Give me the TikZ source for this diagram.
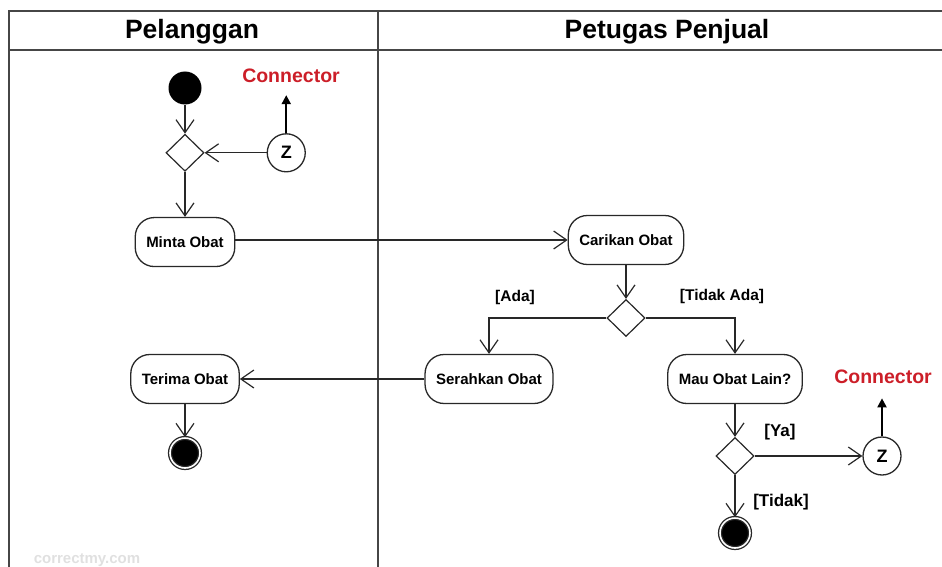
\documentclass[tikz,border=0pt]{standalone}
\usepackage{fontspec}
\setmainfont{Liberation Sans}
\usepackage{tikz}
\usetikzlibrary{shapes.geometric,arrows.meta,positioning}
\definecolor{lanegrey}{RGB}{70,70,70}
\definecolor{lineblack}{RGB}{40,40,40}
\definecolor{connred}{RGB}{204,30,40}

\begin{document}
\begin{tikzpicture}[x=1pt, y=-1pt,
    action/.style={rectangle, draw=lineblack, line width=1.3pt, fill=white,
        rounded corners=19pt, minimum height=49pt, inner xsep=11pt,
        font=\fontsize{15}{17}\bfseries\selectfont},
    choice/.style={diamond, draw=lineblack, line width=1.2pt, fill=white,
        minimum width=38pt, minimum height=37pt, inner sep=0pt, aspect=1},
    startnode/.style={circle, fill=black, minimum size=33pt, inner sep=0pt},
    endnode/.style={circle, draw=lineblack, line width=1.3pt, fill=black,
        double=white, double distance=1.6pt, minimum size=30pt, inner sep=0pt},
    jump/.style={circle, draw=lineblack, line width=1.3pt, fill=white,
        minimum size=38pt, inner sep=0pt, font=\fontsize{18}{20}\bfseries\selectfont},
    conntext/.style={text=connred, font=\fontsize{19.5}{22}\bfseries\selectfont},
    guard/.style={font=\fontsize{15.5}{17}\bfseries\selectfont},
    lanehead/.style={font=\fontsize{26.5}{30}\bfseries\selectfont},
    flow/.style={-{Straight Barb[length=13pt, width=18pt, line width=1.2pt]},
        line width=1.2pt, lineblack},
    pointer/.style={-{Triangle[length=9pt, width=9pt]}, line width=2pt, black}
]
    \useasboundingbox (0,0) rectangle (942,567);

    % Swimlanes
    \draw[lanegrey, line width=2pt] (950,11) -- (9,11) -- (9,575);
    \draw[lanegrey, line width=2pt] (9,50) -- (950,50);
    \draw[lanegrey, line width=2pt] (378,11) -- (378,575);
    \node[lanehead] (laneA) at (192,32) {Pelanggan};
    \node[lanehead] (laneB) at (667,32) {Petugas Penjual};

    % Pelanggan lane
    \node[startnode] (start) at (185,88) {};
    \node[choice, below=29pt of start] (merge) {};
    \node[action, below=45pt of merge] (minta) {Minta Obat};
    \node[jump, right=62pt of merge] (zin) {Z};
    \node[conntext] (connA) at (291,76) {Connector};
    \node[action] (terima) at (185,379) {Terima Obat};
    \node[endnode] (endA) at (185,453) {};

    % Petugas Penjual lane
    \node[action] (cari) at (626,240) {Carikan Obat};
    \node[choice] (ada) at (626,318) {};
    \node[action] (serah) at (489,379) {Serahkan Obat};
    \node[action] (lain) at (735,379) {Mau Obat Lain?};
    \node[choice] (lagi) at (735,456) {};
    \node[jump] (zout) at (882,456) {Z};
    \node[conntext] (connB) at (883,377) {Connector};
    \node[endnode] (endB) at (735,533) {};

    % Guards
    \node[guard] (gAda) at (515,297) {[Ada]};
    \node[guard] (gTidakAda) at (722,296) {[Tidak Ada]};
    \node[guard, font=\fontsize{17}{19}\bfseries\selectfont] (gYa) at (780,432) {[Ya]};
    \node[guard, font=\fontsize{17}{19}\bfseries\selectfont] (gTidak) at (781,502) {[Tidak]};

    % Flows
    \draw[flow] (start) -- (merge);
    \draw[flow] (zin) -- (merge);
    \draw[pointer] (zin.north) -- ++(0,-38);
    \draw[flow] (merge) -- (minta);
    \draw[flow] (minta.east |- cari) -- (cari);
    \draw[flow] (cari) -- (ada);
    \draw[flow] (ada.west) -| (serah.north);
    \draw[flow] (ada.east) -| (lain.north);
    \draw[flow] (serah) -- (terima);
    \draw[flow] (terima) -- (endA);
    \draw[flow] (lain) -- (lagi);
    \draw[flow] (lagi) -- (zout);
    \draw[pointer] (zout.north) -- ++(0,-38);
    \draw[flow] (lagi) -- (endB);

    % Watermark
    \node[text=black!12, font=\fontsize{15}{17}\bfseries\selectfont] (mark) at (87,560) {correctmy.com};
\end{tikzpicture}
\end{document}
